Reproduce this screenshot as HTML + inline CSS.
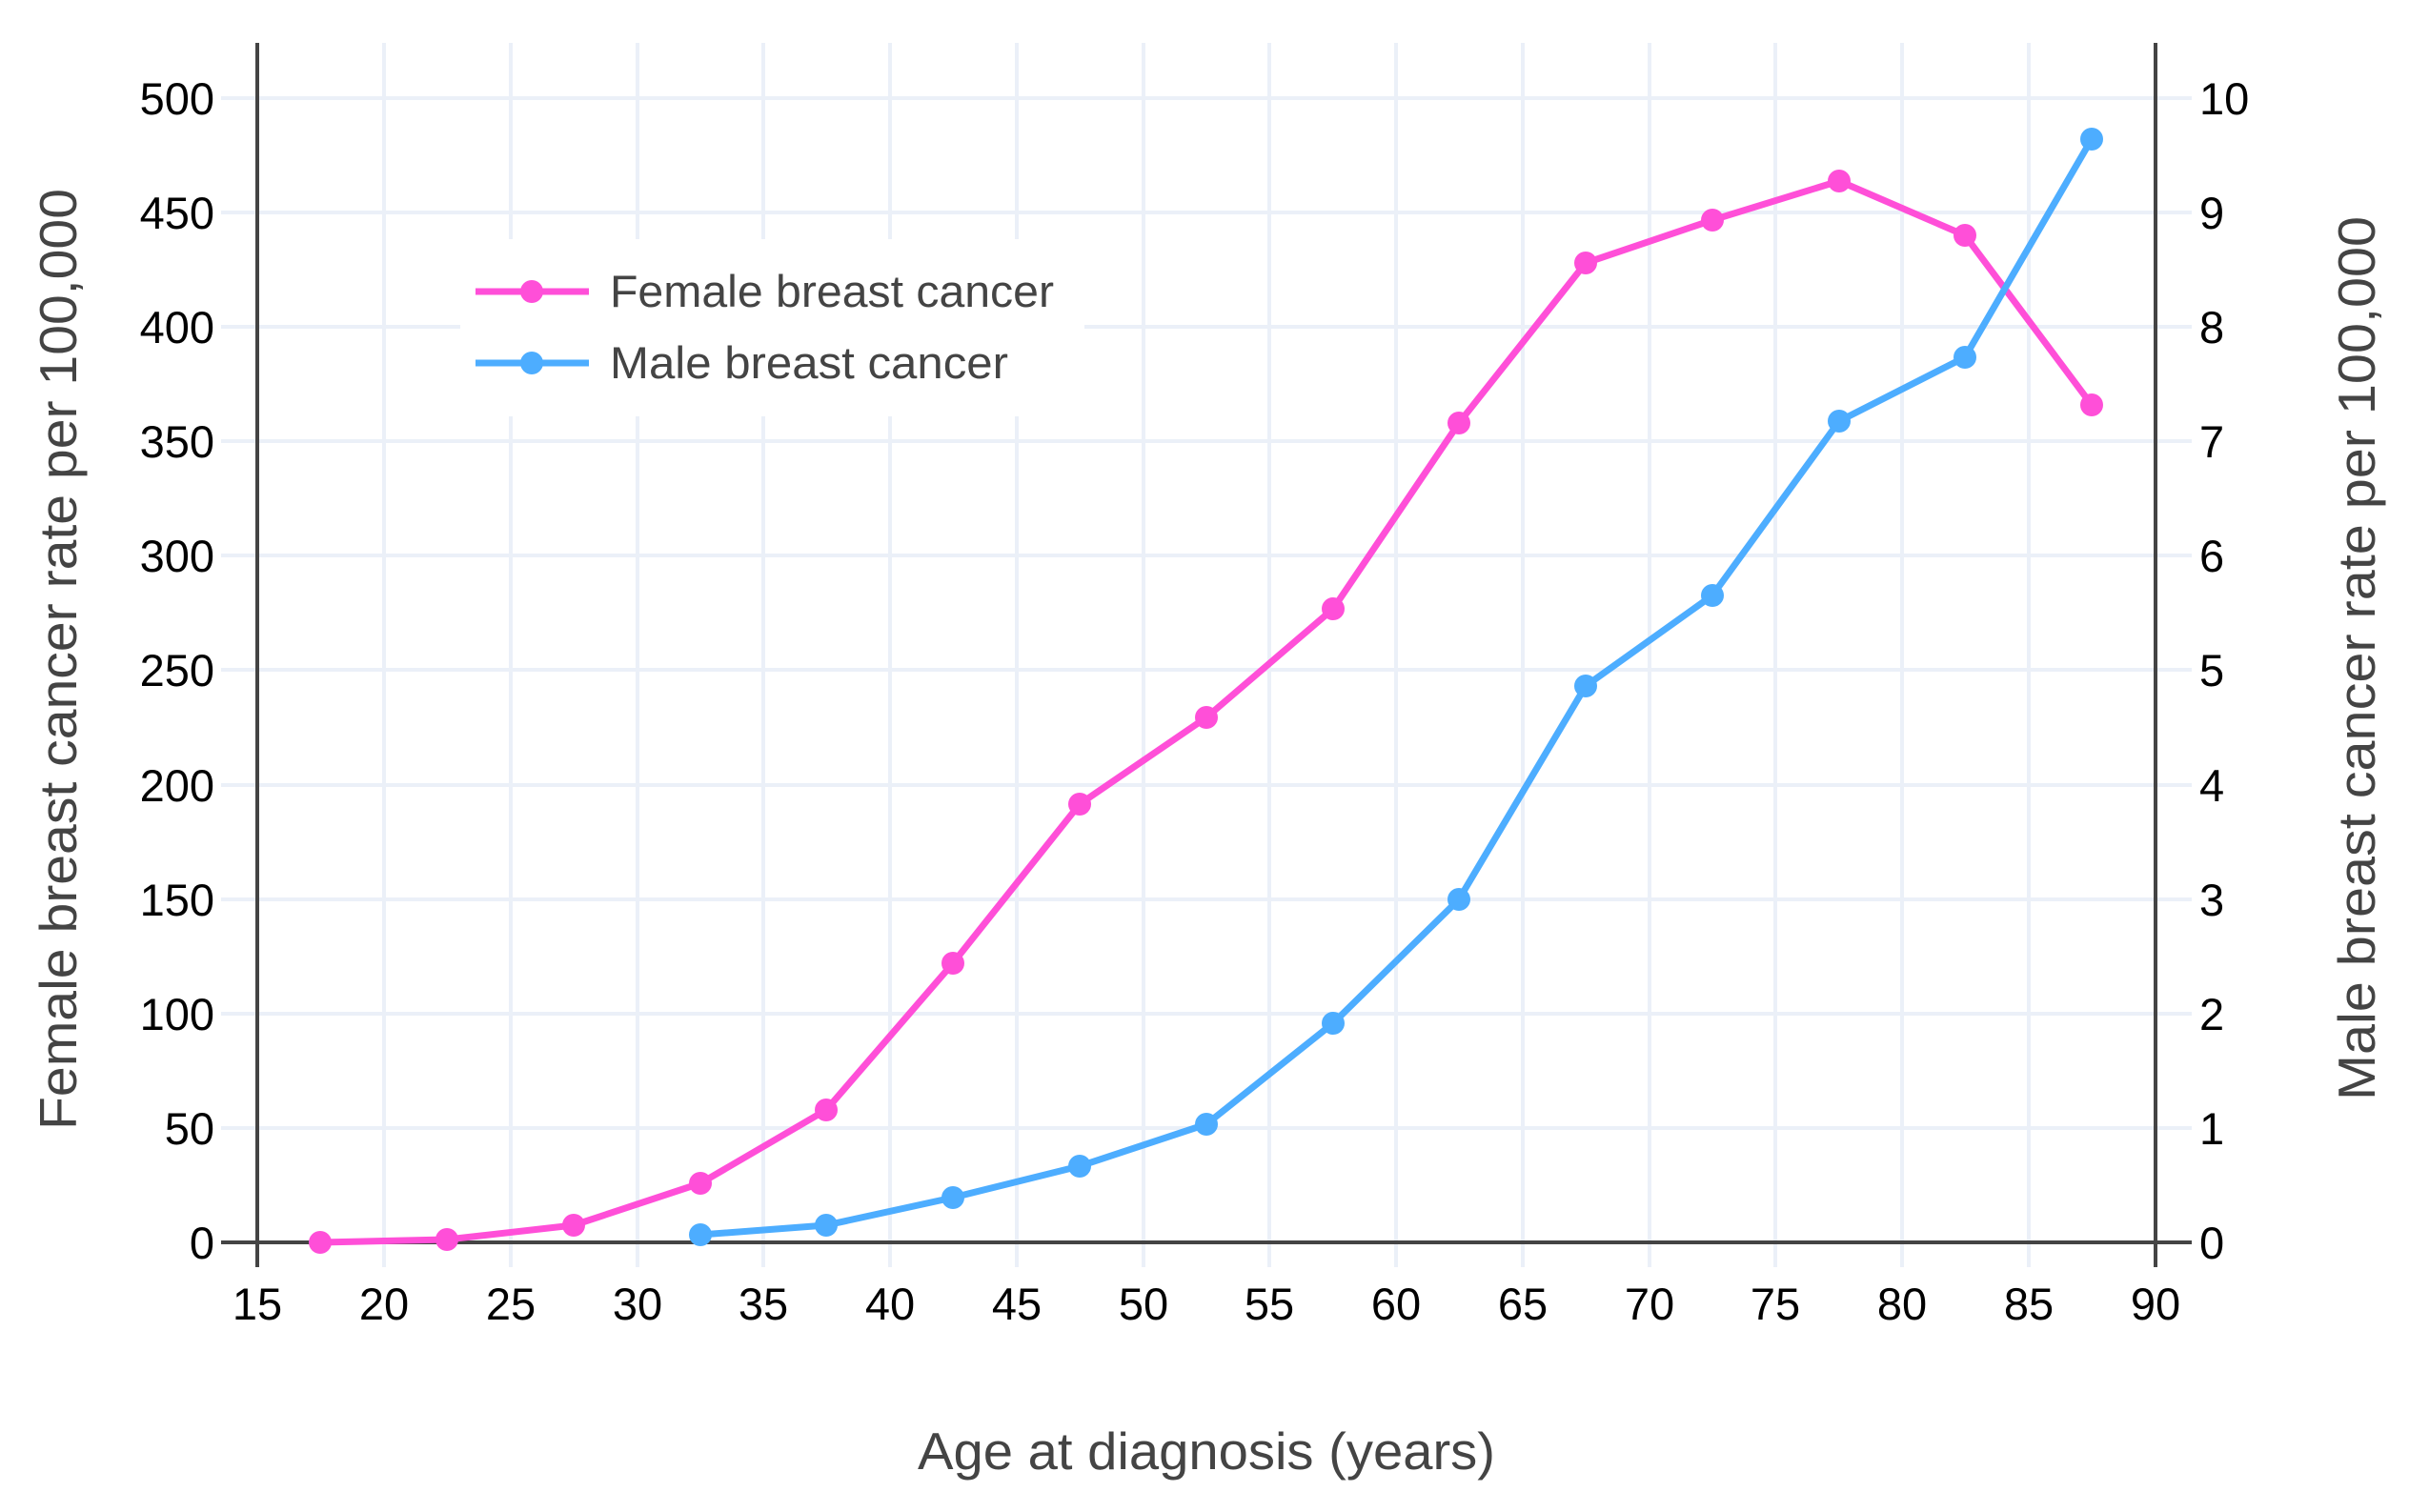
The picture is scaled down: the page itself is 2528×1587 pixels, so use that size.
<!DOCTYPE html>
<html><head><meta charset="utf-8"><style>html,body{margin:0;padding:0;background:#fff}svg{display:block}</style></head>
<body>
<svg width="2528" height="1587" viewBox="0 0 2528 1587" xmlns="http://www.w3.org/2000/svg" font-family="'Liberation Sans', sans-serif">
<rect width="2528" height="1587" fill="#fff"/>
<g stroke="#ebf0f8" stroke-width="4">
<line x1="232" y1="103" x2="2300" y2="103"/><line x1="232" y1="223" x2="2300" y2="223"/><line x1="232" y1="343" x2="2300" y2="343"/><line x1="232" y1="463" x2="2300" y2="463"/><line x1="232" y1="583" x2="2300" y2="583"/><line x1="232" y1="703" x2="2300" y2="703"/><line x1="232" y1="824" x2="2300" y2="824"/><line x1="232" y1="944" x2="2300" y2="944"/><line x1="232" y1="1064" x2="2300" y2="1064"/><line x1="232" y1="1184" x2="2300" y2="1184"/>
<line x1="403" y1="45" x2="403" y2="1330"/><line x1="536" y1="45" x2="536" y2="1330"/><line x1="669" y1="45" x2="669" y2="1330"/><line x1="801" y1="45" x2="801" y2="1330"/><line x1="934" y1="45" x2="934" y2="1330"/><line x1="1067" y1="45" x2="1067" y2="1330"/><line x1="1200" y1="45" x2="1200" y2="1330"/><line x1="1332" y1="45" x2="1332" y2="1330"/><line x1="1465" y1="45" x2="1465" y2="1330"/><line x1="1598" y1="45" x2="1598" y2="1330"/><line x1="1731" y1="45" x2="1731" y2="1330"/><line x1="1863" y1="45" x2="1863" y2="1330"/><line x1="1996" y1="45" x2="1996" y2="1330"/><line x1="2129" y1="45" x2="2129" y2="1330"/>
</g>
<rect x="483" y="251" width="655" height="186" fill="#fff"/>
<g stroke="#444" stroke-width="4">
<line x1="270" y1="45" x2="270" y2="1330"/><line x1="2262" y1="45" x2="2262" y2="1330"/><line x1="232" y1="1304" x2="2300" y2="1304"/>
</g>
<g font-size="47" fill="#000" text-anchor="end">
<text x="225" y="120">500</text><text x="225" y="240">450</text><text x="225" y="360">400</text><text x="225" y="480">350</text><text x="225" y="600">300</text><text x="225" y="720">250</text><text x="225" y="841">200</text><text x="225" y="961">150</text><text x="225" y="1081">100</text><text x="225" y="1201">50</text><text x="225" y="1321">0</text>
</g>
<g font-size="47" fill="#000" text-anchor="start">
<text x="2308" y="120">10</text><text x="2308" y="240">9</text><text x="2308" y="360">8</text><text x="2308" y="480">7</text><text x="2308" y="600">6</text><text x="2308" y="720">5</text><text x="2308" y="841">4</text><text x="2308" y="961">3</text><text x="2308" y="1081">2</text><text x="2308" y="1201">1</text><text x="2308" y="1321">0</text>
</g>
<g font-size="47" fill="#000" text-anchor="middle">
<text x="270" y="1385">15</text><text x="403" y="1385">20</text><text x="536" y="1385">25</text><text x="669" y="1385">30</text><text x="801" y="1385">35</text><text x="934" y="1385">40</text><text x="1067" y="1385">45</text><text x="1200" y="1385">50</text><text x="1332" y="1385">55</text><text x="1465" y="1385">60</text><text x="1598" y="1385">65</text><text x="1731" y="1385">70</text><text x="1863" y="1385">75</text><text x="1996" y="1385">80</text><text x="2129" y="1385">85</text><text x="2262" y="1385">90</text>
</g>
<text x="1266" y="1542" font-size="55" fill="#444" text-anchor="middle" textLength="606" lengthAdjust="spacingAndGlyphs">Age at diagnosis (years)</text>
<text transform="translate(80,692) rotate(-90)" font-size="55" fill="#444" text-anchor="middle" textLength="988" lengthAdjust="spacingAndGlyphs">Female breast cancer rate per 100,000</text>
<text transform="translate(2492,691) rotate(-90)" font-size="55" fill="#444" text-anchor="middle" textLength="928" lengthAdjust="spacingAndGlyphs">Male breast cancer rate per 100,000</text>
<polyline fill="none" stroke="#ff4fd8" stroke-width="7" stroke-linejoin="round" points="336,1304 469,1301 602,1286 735,1242 867,1165 1000,1011 1133,844 1266,753 1399,639 1531,444 1664,276 1797,231 1930,190 2062,247 2195,425"/>
<g fill="#ff4fd8"><circle cx="336" cy="1304" r="12"/><circle cx="469" cy="1301" r="12"/><circle cx="602" cy="1286" r="12"/><circle cx="735" cy="1242" r="12"/><circle cx="867" cy="1165" r="12"/><circle cx="1000" cy="1011" r="12"/><circle cx="1133" cy="844" r="12"/><circle cx="1266" cy="753" r="12"/><circle cx="1399" cy="639" r="12"/><circle cx="1531" cy="444" r="12"/><circle cx="1664" cy="276" r="12"/><circle cx="1797" cy="231" r="12"/><circle cx="1930" cy="190" r="12"/><circle cx="2062" cy="247" r="12"/><circle cx="2195" cy="425" r="12"/></g>
<polyline fill="none" stroke="#4dadff" stroke-width="7" stroke-linejoin="round" points="735,1296 867,1286 1000,1257 1133,1224 1266,1180 1399,1074 1531,944 1664,720 1797,625 1930,442 2062,375 2195,146"/>
<g fill="#4dadff"><circle cx="735" cy="1296" r="12"/><circle cx="867" cy="1286" r="12"/><circle cx="1000" cy="1257" r="12"/><circle cx="1133" cy="1224" r="12"/><circle cx="1266" cy="1180" r="12"/><circle cx="1399" cy="1074" r="12"/><circle cx="1531" cy="944" r="12"/><circle cx="1664" cy="720" r="12"/><circle cx="1797" cy="625" r="12"/><circle cx="1930" cy="442" r="12"/><circle cx="2062" cy="375" r="12"/><circle cx="2195" cy="146" r="12"/></g>
<line x1="499" y1="306" x2="618" y2="306" stroke="#ff4fd8" stroke-width="7"/><circle cx="558" cy="306" r="12" fill="#ff4fd8"/>
<line x1="499" y1="381" x2="618" y2="381" stroke="#4dadff" stroke-width="7"/><circle cx="558" cy="381" r="12" fill="#4dadff"/>
<text x="640" y="322" font-size="47" fill="#444" textLength="466" lengthAdjust="spacingAndGlyphs">Female breast cancer</text>
<text x="640" y="397" font-size="47" fill="#444" textLength="418" lengthAdjust="spacingAndGlyphs">Male breast cancer</text>
</svg>
</body></html>
